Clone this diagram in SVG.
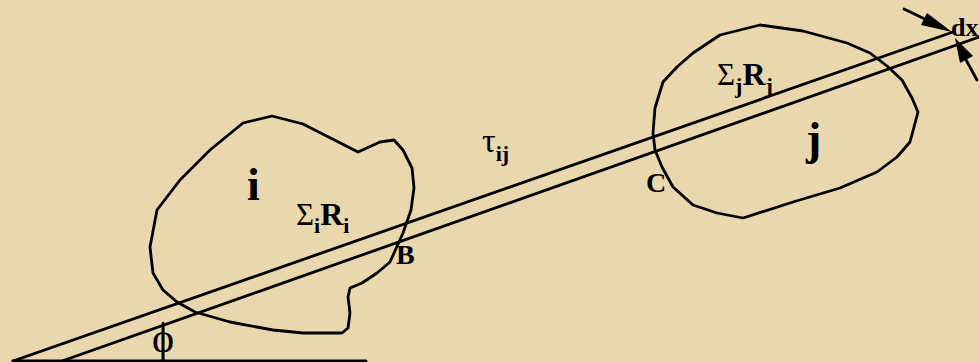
<svg xmlns="http://www.w3.org/2000/svg" width="979" height="362" viewBox="0 0 979 362">
<style>
.ln{fill:none;stroke:#000;stroke-width:2.8;stroke-linejoin:round;stroke-linecap:round}
.t{font-family:"Liberation Serif","Times New Roman",serif;fill:#000}
.b{font-weight:bold}
</style>
<rect width="979" height="362" fill="#E9D7AE"/>
<g id="region-i">
<polygon class="ln" points="243,123 272,116 303,124 358,152 380,142 394,140 403,150 412,168 414,188 411,210 403,233 390,262 377,273 362,283 350,288 348,297 350,313 348,328 342,333 303,333 273,330 230,322 195,312 177,302 163,290 153,273 150,247 157,210 180,180 210,150"/>
<text class="t b" x="247" y="200" font-size="46">i</text>
<text class="t" x="296" y="225" font-size="31">Σ<tspan class="b" font-size="22" dy="8">i</tspan><tspan class="b" font-size="32" dy="-8">R</tspan><tspan class="b" font-size="22" dy="8">i</tspan></text>
</g>
<g id="region-j">
<polygon class="ln" points="760,25 803,31 847,43 870,53 887,66 902,80 912,98 918,112 910,142 897,157 877,172 840,188 793,202 743,218 717,213 693,205 673,187 662,167 655,150 653,133 655,108 663,82 677,67 693,53 720,35"/>
<text class="t b" x="806" y="154" font-size="46">j</text>
<text class="t" x="717" y="85" font-size="31">Σ<tspan class="b" font-size="22" dy="8">j</tspan><tspan class="b" font-size="32" dy="-8">R</tspan><tspan class="b" font-size="22" dy="8">j</tspan></text>
</g>
<g id="connectors">
<line class="ln" x1="13" y1="361" x2="953" y2="32"/>
<line class="ln" x1="62" y1="361" x2="979" y2="37"/>
<line class="ln" x1="13" y1="361" x2="366" y2="361" stroke-width="3"/>
<line class="ln" x1="163" y1="325" x2="163" y2="361" stroke-width="2"/>
<line class="ln" x1="904" y1="9" x2="930" y2="21.6"/>
<polygon points="952,32 927,13 921,25" fill="#000"/>
<line class="ln" x1="977" y1="80" x2="965" y2="58"/>
<polygon points="955,38 973,56 960,63" fill="#000"/>
</g>
<g id="labels">
<text class="t" x="163" y="352" font-size="42" text-anchor="middle">ϕ</text>
<text class="t" x="482" y="152" font-size="34">τ<tspan class="b" font-size="22" dy="9">ij</tspan></text>
<text class="t b" x="396" y="264" font-size="28">B</text>
<text class="t b" x="646" y="192" font-size="28">C</text>
<text class="t b" x="951" y="36" font-size="26">dx</text>
</g>
</svg>
